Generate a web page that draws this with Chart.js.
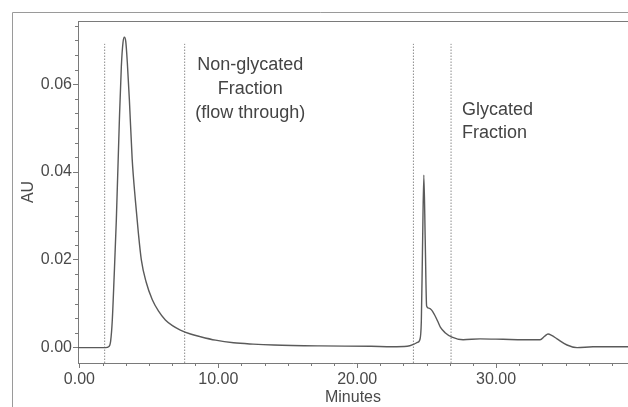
<!DOCTYPE html>
<html>
<head>
<meta charset="utf-8">
<script src="https://cdn.jsdelivr.net/npm/chart.js@4.4.1/dist/chart.umd.min.js"></script>
<style>
  html, body { margin: 0; padding: 0; background: #ffffff; }
  #wrap { position: relative; width: 628px; height: 407px; }
</style>
</head>
<body>
<div id="wrap"><canvas id="chromatogram" width="628" height="407"></canvas></div>
<script>
// Boronate affinity run, absorbance vs retention time
const minutes = [
  -0.1, 1.9, 2.1, 2.25, 2.37, 2.5, 2.66, 2.88, 3.02, 3.14, 3.24, 3.34, 3.45,
  3.6, 3.8, 4.03, 4.25, 4.46, 4.8, 5.25, 5.7, 6.19, 6.7, 7.27, 8.0, 8.7, 9.8,
  11.1, 12.5, 14.0, 17.3, 21.0, 22.5, 23.6, 24.1, 24.35, 24.5, 24.62, 24.7,
  24.8, 24.9, 25.0, 25.15, 25.35, 25.55, 25.8, 26.0, 26.33, 26.83, 27.63,
  28.85, 30.5, 31.94, 33.17, 33.5, 33.74, 34.0, 34.39, 35.11, 35.83, 36.98,
  38.42, 39.6
];
const absorbance = [
  0.0000, 0.0000, 0.0002, 0.0015, 0.0063, 0.0160, 0.0291, 0.0519, 0.0640,
  0.0695, 0.0707, 0.0697, 0.0650, 0.0564, 0.0430, 0.0336, 0.0260, 0.0200,
  0.0150, 0.0109, 0.0083, 0.0063, 0.0050, 0.0040, 0.0031, 0.0025, 0.0017,
  0.0011, 0.0008, 0.0006, 0.0004, 0.0003, 0.0002, 0.0003, 0.0008, 0.0012,
  0.0017, 0.0060, 0.0216, 0.0393, 0.0245, 0.0095, 0.0090, 0.0086, 0.0076,
  0.0060, 0.0046, 0.0034, 0.0024, 0.0018, 0.0020, 0.0019, 0.0018, 0.0018,
  0.0026, 0.0031, 0.0028, 0.0020, 0.0006, 0.0000, 0.0002, 0.0002, 0.0002
];

// fraction collection boundaries (min)
const fractionCuts = [1.82, 7.58, 24.05, 26.76];
const cutTop = 0.0692;

const xTicks = [0, 10, 20, 30];
const yTicks = [0, 0.02, 0.04, 0.06];

const xMin = -0.1, xMax = 39.5;
const yMin = -0.0035, yMax = 0.0744;

const textColor = '#4a4a4a';
const axisColor = '#7a7a7a';

Chart.defaults.font.family = '"Liberation Sans", Arial, sans-serif';
Chart.defaults.color = textColor;

const traceData = minutes.map((m, i) => ({ x: m, y: absorbance[i] }));

const cutDatasets = fractionCuts.map(c => ({
  data: [{ x: c, y: yMin }, { x: c, y: cutTop }],
  borderColor: '#8c8c8c',
  borderWidth: 1,
  borderDash: [1.5, 1.5],
  pointRadius: 0
}));

// frame lines, minor ticks and fraction labels
const decorations = {
  id: 'decorations',
  beforeDraw(chart) {
    const { ctx } = chart;
    ctx.save();
    ctx.fillStyle = '#ffffff';
    ctx.fillRect(0, 0, chart.width, chart.height);
    ctx.restore();
  },
  afterDraw(chart) {
    const { ctx, chartArea, scales: { x, y } } = chart;
    ctx.save();
    ctx.strokeStyle = '#9a9a9a';
    ctx.lineWidth = 1;
    ctx.beginPath();
    ctx.moveTo(12.5, chart.height);
    ctx.lineTo(12.5, 12.5);
    ctx.lineTo(chart.width, 12.5);
    ctx.stroke();

    ctx.strokeStyle = axisColor;
    ctx.beginPath();
    ctx.moveTo(chartArea.left, chartArea.top + 0.5);
    ctx.lineTo(chartArea.right, chartArea.top + 0.5);
    ctx.stroke();

    ctx.beginPath();
    for (let i = 1; i * 10 / 6 <= xMax; i++) {
      if (i % 6 === 0) continue;
      const px = Math.round(x.getPixelForValue(i * 10 / 6)) + 0.5;
      ctx.moveTo(px, chartArea.bottom);
      ctx.lineTo(px, chartArea.bottom + 3);
    }
    for (let i = 1; i * 0.02 / 6 <= yMax; i++) {
      if (i % 6 === 0) continue;
      const py = Math.round(y.getPixelForValue(i * 0.02 / 6)) + 0.5;
      ctx.moveTo(chartArea.left, py);
      ctx.lineTo(chartArea.left - 3, py);
    }
    ctx.stroke();

    ctx.fillStyle = '#444444';
    ctx.font = '18px "Liberation Sans", Arial, sans-serif';
    ctx.textBaseline = 'middle';
    ctx.textAlign = 'center';
    const cx = x.getPixelForValue(12.3);
    const cy = y.getPixelForValue(0.0644);
    ['Non-glycated', 'Fraction', '(flow through)'].forEach((t, i) => {
      ctx.fillText(t, cx, cy + i * 24);
    });
    ctx.textAlign = 'left';
    const gx = x.getPixelForValue(27.55);
    const gy = y.getPixelForValue(0.0541);
    ['Glycated', 'Fraction'].forEach((t, i) => {
      ctx.fillText(t, gx, gy + i * 23);
    });
    ctx.restore();
  }
};

new Chart(document.getElementById('chromatogram'), {
  type: 'line',
  data: {
    datasets: [
      {
        data: traceData,
        borderColor: '#5a5a5a',
        borderWidth: 1.4,
        pointRadius: 0,
        cubicInterpolationMode: 'monotone'
      },
      ...cutDatasets
    ]
  },
  options: {
    responsive: false,
    animation: false,
    layout: { padding: { left: 0, right: 0, top: 21, bottom: 0 } },
    plugins: { legend: { display: false }, tooltip: { enabled: false } },
    scales: {
      x: {
        type: 'linear',
        min: xMin,
        max: xMax,
        afterBuildTicks: s => { s.ticks = xTicks.map(v => ({ value: v })); },
        afterFit: s => { s.height = 44; },
        ticks: {
          callback: v => v.toFixed(2),
          font: { size: 16 },
          color: textColor,
          padding: 2,
          maxRotation: 0,
          autoSkip: false
        },
        grid: { display: true, drawOnChartArea: false, drawTicks: true, tickLength: 5, tickColor: axisColor },
        border: { display: true, color: axisColor, width: 1 },
        title: { display: true, text: 'Minutes', font: { size: 16 }, color: textColor, padding: { top: 0, bottom: 0 } }
      },
      y: {
        min: yMin,
        max: yMax,
        afterBuildTicks: s => { s.ticks = yTicks.map(v => ({ value: v })); },
        afterFit: s => { s.width = 78; },
        ticks: {
          callback: v => v.toFixed(2),
          font: { size: 16 },
          color: textColor,
          padding: 1
        },
        grid: { display: true, drawOnChartArea: false, drawTicks: true, tickLength: 5, tickColor: axisColor },
        border: { display: true, color: axisColor, width: 1 },
        title: { display: true, text: 'AU', font: { size: 16 }, color: textColor, padding: { top: 19, bottom: 0 } }
      }
    }
  },
  plugins: [decorations]
});
</script>
</body>
</html>
